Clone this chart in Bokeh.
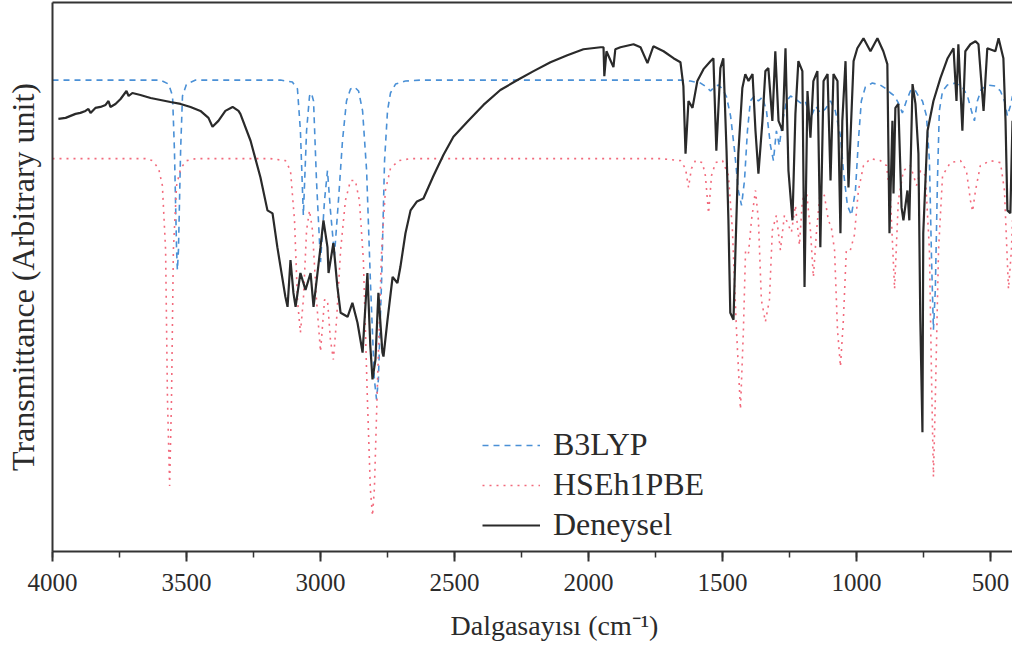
from bokeh.plotting import figure
from bokeh.models import Range1d, LinearAxis, SingleIntervalTicker, FixedTicker, Legend, LegendItem, Title
from bokeh.embed import file_html
from bokeh.resources import INLINE

# ---- Experimental spectrum (Deneysel): wavenumber (cm-1) and transmittance (arb. unit)
exp_wn = [3978, 3951, 3914, 3896, 3877, 3866, 3858, 3840, 3821, 3802, 3791, 3784, 3765, 3746,
          3724, 3716, 3702, 3672, 3634, 3597, 3560, 3522, 3485, 3448, 3418, 3403, 3381, 3355,
          3328, 3306, 3299, 3261, 3224, 3198, 3179, 3161, 3149, 3131, 3123, 3112, 3101, 3093,
          3075, 3056, 3037, 3026, 3000, 2989, 2974, 2970, 2952, 2937, 2925, 2899, 2881, 2862,
          2843, 2825, 2814, 2806, 2795, 2784, 2769, 2765, 2750, 2731, 2713, 2702, 2683, 2664,
          2640, 2616, 2578, 2541, 2504, 2452, 2392, 2329, 2265, 2205, 2142, 2079, 2019, 1955,
          1944, 1941, 1933, 1907, 1900, 1881, 1832, 1806, 1780, 1758, 1720, 1683, 1657, 1646,
          1638, 1627, 1612, 1594, 1571, 1545, 1534, 1523, 1508, 1497, 1485, 1478, 1471, 1459,
          1452, 1441, 1426, 1415, 1403, 1388, 1377, 1366, 1351, 1340, 1329, 1314, 1303, 1291,
          1276, 1265, 1254, 1239, 1228, 1217, 1202, 1194, 1183, 1172, 1161, 1146, 1135, 1123,
          1108, 1097, 1086, 1071, 1060, 1053, 1041, 1030, 1011, 997, 974, 948, 922, 900, 885,
          877, 866, 862, 855, 844, 832, 825, 810, 803, 791, 780, 769, 762, 754, 751, 735, 713,
          687, 660, 638, 627, 620, 605, 594, 575, 556, 545, 526, 512, 482, 470, 452, 444, 437,
          426, 418]
exp_t = [435, 436, 440, 441, 443, 445, 441, 446, 447, 449, 453, 447, 450, 455,
         463, 458, 461, 459, 456, 454, 452, 450, 447, 443, 436, 427, 433, 443,
         447, 443, 440, 413, 376, 343, 340, 306, 286, 256, 246, 293, 260, 246,
         280, 263, 280, 246, 306, 333, 306, 280, 310, 266, 240, 236, 250, 230,
         200, 280, 206, 173, 193, 260, 200, 196, 233, 276, 270, 286, 320, 343,
         352, 355, 378, 399, 417, 432, 449, 464, 474, 483, 492, 499, 505, 507,
         507, 478, 503, 487, 505, 507, 510, 507, 491, 508, 503, 496, 492, 468,
         400, 453, 446, 473, 485, 493, 496, 403, 486, 496, 403, 333, 240, 233,
         300, 400, 466, 480, 473, 480, 423, 380, 433, 483, 486, 433, 503, 433,
         423, 506, 383, 333, 440, 493, 483, 266, 463, 416, 473, 483, 306, 473,
         480, 373, 480, 473, 320, 433, 493, 366, 493, 506, 516, 503, 516, 503, 490,
         320, 433, 360, 446, 450, 346, 333, 363, 333, 470, 450, 400, 233, 120, 320, 423, 453,
         476, 496, 506, 453, 510, 423, 503, 510, 513, 510, 443, 506, 503, 516, 496, 433, 343,
         340, 433]

# ---- B3LYP computed spectrum
b3_wn = [4000, 3597, 3567, 3552, 3545, 3537, 3534, 3530, 3522, 3515, 3500, 3466,
         3149, 3105, 3086, 3075, 3064, 3052, 3041, 3034, 3026, 3015, 3000, 2985, 2974,
         2963, 2948, 2933, 2918, 2903, 2888, 2873, 2858, 2843, 2828, 2814, 2799, 2791,
         2784, 2772, 2761, 2750, 2739, 2720, 2683, 2627,
         1657, 1620, 1582, 1560, 1545, 1530, 1515, 1500, 1485, 1470, 1455, 1441, 1429,
         1418, 1407, 1396, 1381, 1366, 1351, 1336, 1321, 1310, 1299, 1288, 1276, 1261,
         1246, 1228, 1209, 1191, 1172, 1153, 1135, 1116, 1097, 1079, 1060, 1049, 1034,
         1019, 1004, 993, 982, 967, 941, 911, 888, 873, 858, 844, 829, 814, 799, 784,
         769, 754, 739, 728, 720, 713, 706, 698, 691, 679, 661, 631, 605, 586, 571, 560,
         549, 534, 508, 482, 463, 448, 437, 426, 418]
b3_t = [474, 474, 470, 458, 403, 303, 283, 303, 403, 458, 470, 474,
        474, 472, 465, 423, 338, 423, 458, 461, 453, 373, 291, 353, 383,
        343, 298, 353, 413, 453, 465, 467, 463, 443, 383, 273, 173, 153,
        173, 273, 393, 443, 461, 470, 473, 474,
        474, 473, 471, 467, 463, 467, 469, 465, 457, 438, 403, 363, 348,
        373, 423, 453, 458, 453, 457, 443, 408, 393, 423, 408, 433, 453,
        458, 455, 451, 453, 435, 448, 441, 445, 453, 443, 418, 383, 348,
        338, 363, 413, 453, 467, 471, 469, 465, 461, 458, 451, 441, 453, 463, 465,
        458, 453, 438, 393, 293, 223, 263, 373, 443, 463, 469, 471, 467, 458, 443, 433,
        453, 465, 469, 468, 463, 453, 438, 448, 458]

# ---- HSEh1PBE computed spectrum
hse_wn = [4000, 3653, 3627, 3604, 3590, 3578, 3571, 3563, 3556, 3549, 3537, 3522, 3500, 3466,
          3187, 3131, 3112, 3097, 3086, 3075, 3064, 3052, 3041, 3030, 3015, 3000, 2985, 2974,
          2963, 2952, 2940, 2925, 2907, 2888, 2870, 2855, 2840, 2825, 2814, 2806, 2799, 2787,
          2772, 2758, 2739, 2709, 2664,
          1732, 1657, 1638, 1627, 1616, 1601, 1575, 1564, 1552, 1541, 1526, 1500, 1478, 1463,
          1448, 1433, 1422, 1414, 1403, 1392, 1377, 1366, 1355, 1340, 1325, 1314, 1299, 1284,
          1269, 1254, 1243, 1228, 1213, 1202, 1187, 1172, 1161, 1149, 1135, 1120, 1105, 1094,
          1082, 1071, 1060, 1049, 1038, 1023, 1008, 993, 974, 948, 911, 888, 873, 858, 844,
          825, 799, 776, 761, 743, 728, 720, 713, 706, 694, 679, 650, 612, 590, 575, 567, 556,
          538, 500, 463, 448, 433, 422, 418]
hse_t = [395, 395, 393, 385, 368, 303, 153, 66, 153, 303, 368, 385, 393, 395,
         395, 393, 383, 333, 253, 220, 253, 323, 343, 323, 253, 201, 253, 253,
         213, 193, 233, 303, 353, 373, 373, 353, 293, 153, 63, 36, 63, 173,
         303, 363, 385, 393, 395,
         395, 393, 385, 366, 385, 393, 391, 378, 340, 378, 391, 393, 378, 323,
         223, 143, 223, 303, 300, 333, 363, 333, 253, 231, 253, 323, 338, 303,
         338, 328, 321, 348, 308, 353, 363, 323, 276, 323, 363, 358, 333, 326,
         303, 223, 186, 233, 303, 303, 318, 363, 388, 395, 393, 388, 353, 264, 353,
         383, 388, 368, 383, 378, 303, 173, 75, 153, 303, 378, 391, 393, 383, 353, 342, 363,
         388, 393, 391, 363, 264, 303, 333]

FONT = "Liberation Serif"
TXT = "#2b2b2b"

p = figure(width=1012, height=654, output_backend="svg", toolbar_location=None,
           x_range=Range1d(4000, 418), y_range=Range1d(0, 552),
           min_border_left=52, min_border_right=0, min_border_top=2, min_border_bottom=101)
p.outline_line_color = None
p.xgrid.visible = False
p.ygrid.visible = False
p.background_fill_color = "white"
p.border_fill_color = "white"

rb = p.line(b3_wn, b3_t, line_color="#4a90d6", line_width=1.6, line_dash="6 5")
rh = p.line(hse_wn, hse_t, line_color="#f26a7c", line_width=1.6, line_dash="2 5")
re = p.line(exp_wn, exp_t, line_color="#2a2a2a", line_width=2.2)

xa = p.xaxis[0]
xa.ticker = SingleIntervalTicker(interval=500, num_minor_ticks=2)
xa.axis_line_color = "#333333"
xa.axis_line_width = 2
xa.major_tick_line_color = "#333333"
xa.major_tick_line_width = 2
xa.minor_tick_line_color = "#333333"
xa.minor_tick_line_width = 1.5
xa.major_tick_in = 0
xa.major_tick_out = 10
xa.minor_tick_in = 0
xa.minor_tick_out = 6
xa.major_label_standoff = 12
xa.major_label_text_font = FONT
xa.major_label_text_font_size = "25px"
xa.major_label_text_color = TXT

# x-axis title (the original frame runs past the right edge, so it sits right of centre)
xtitle = Title(text="Dalgasayısı (cm⁻¹)", align="left", offset=398, standoff=28,
               text_font=FONT, text_font_size="28px", text_font_style="normal",
               text_color=TXT)
p.add_layout(xtitle, "below")

ya = p.yaxis[0]
ya.ticker = FixedTicker(ticks=[])
ya.axis_line_color = "#333333"
ya.axis_line_width = 2
ya.major_tick_out = 0
ya.minor_tick_out = 0
ya.major_label_standoff = 0
ya.axis_label = "Transmittance (Arbitrary unit)"
ya.axis_label_text_font = FONT
ya.axis_label_text_font_size = "32px"
ya.axis_label_text_font_style = "normal"
ya.axis_label_text_color = TXT
ya.axis_label_standoff = 12

top = LinearAxis(ticker=FixedTicker(ticks=[]), axis_line_color="#333333", axis_line_width=2,
                 major_tick_out=0, minor_tick_out=0, major_label_standoff=0)
p.add_layout(top, "above")

legend = Legend(items=[LegendItem(label="B3LYP", renderers=[rb]),
                       LegendItem(label="HSEh1PBE", renderers=[rh]),
                       LegendItem(label="Deneysel", renderers=[re])],
                location=(430, 8), glyph_width=58, glyph_height=30, label_standoff=13,
                spacing=3, padding=0, margin=0, border_line_color=None,
                background_fill_alpha=0, label_text_font=FONT,
                label_text_font_size="32px", label_text_color=TXT)
p.add_layout(legend)

open("out.html", "w").write(file_html(p, INLINE))
